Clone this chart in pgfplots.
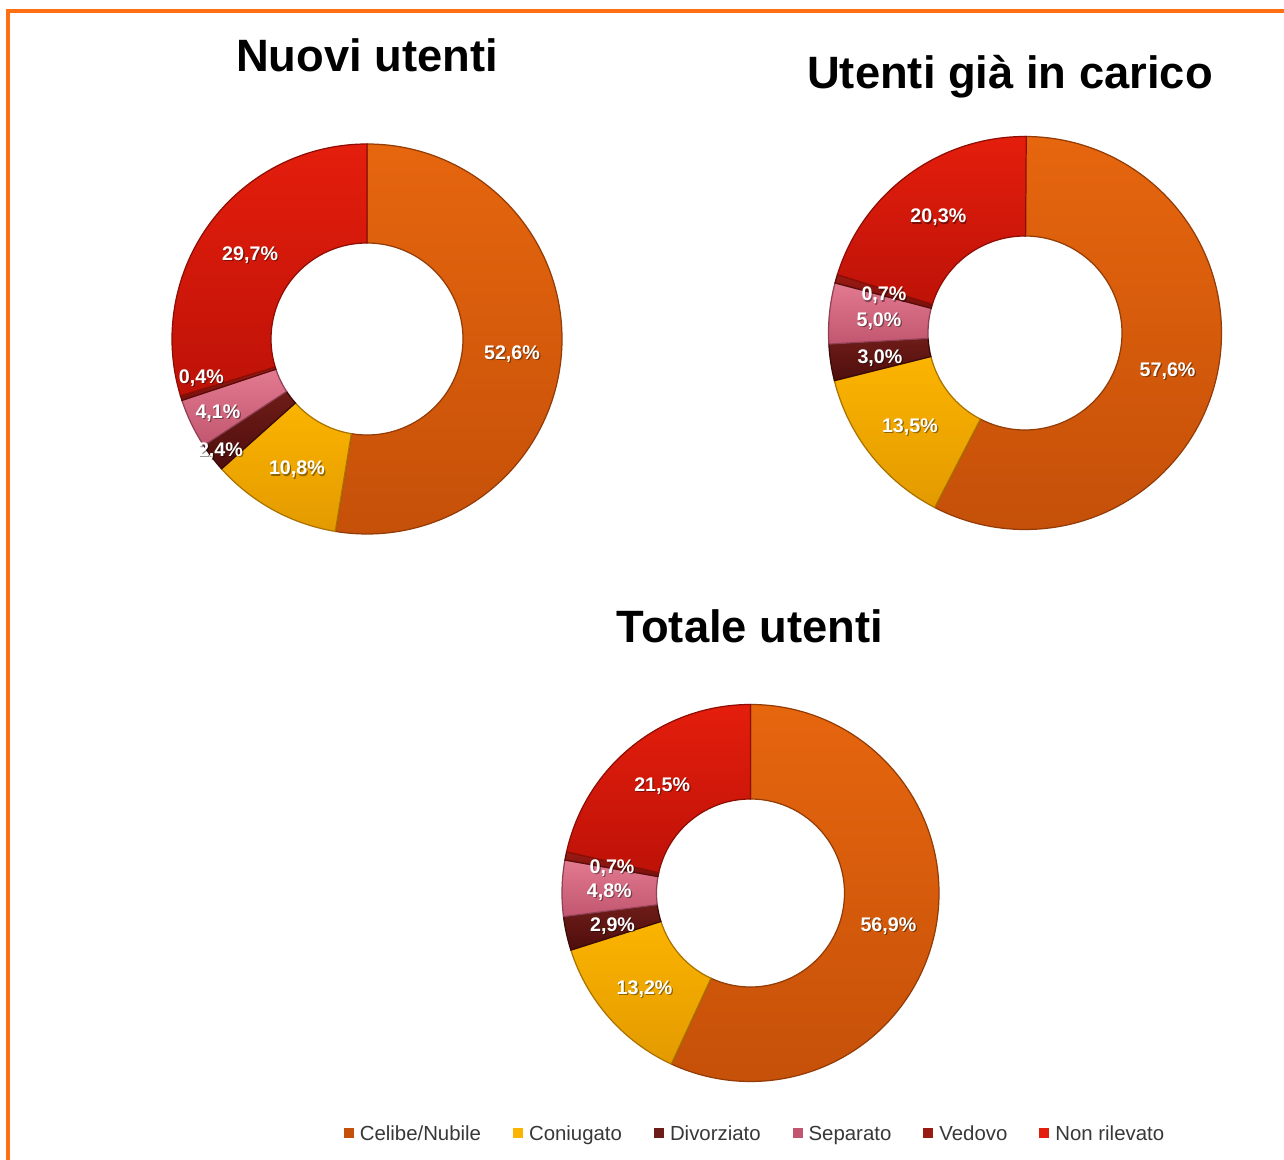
\documentclass[border=0pt]{standalone}
\usepackage{pgfplots}
\pgfplotsset{compat=1.18}
\usepackage{pgfplotstable}
\usepackage{fontspec}
\setmainfont{Liberation Sans}

\definecolor{celA}{HTML}{E6660E}\definecolor{celB}{HTML}{C55009}
\definecolor{conA}{HTML}{FBB400}\definecolor{conB}{HTML}{E39A00}
\definecolor{divA}{HTML}{6E1C18}\definecolor{divB}{HTML}{4E0E0C}
\definecolor{sepA}{HTML}{E27A90}\definecolor{sepB}{HTML}{C25670}
\definecolor{vedA}{HTML}{9A1A14}\definecolor{vedB}{HTML}{7A100C}
\definecolor{nonA}{HTML}{E41E0C}\definecolor{nonB}{HTML}{BE1208}
\definecolor{frameor}{HTML}{FF7014}

% Nuovi utenti
\pgfplotstableread{
v dx dy
52.6 0 0
10.8 0 0
2.4 -0.31 -0.21
4.1 -0.18 -0.08
0.4 -0.27 0.08
29.7 0 0
}\tabA
% Utenti gia in carico
\pgfplotstableread{
v dx dy
57.6 0 0
13.5 0 0
3.0 0 0
5.0 0 0
0.7 0 0
20.3 0 0
}\tabB
% Totale utenti
\pgfplotstableread{
v dx dy
56.9 0 0
13.2 0 0
2.9 0 0
4.8 0 0
0.7 0 0
21.5 0 0
}\tabC

\tikzset{lbl/.style={font=\fontsize{5.6}{6.5}\selectfont\bfseries, text=white, inner sep=0pt},
         lblsh/.style={font=\fontsize{5.6}{6.5}\selectfont\bfseries, text=black, text opacity=0.4, inner sep=0pt}}
\pgfkeys{/pgf/number format/.cd, fixed, fixed zerofill, precision=1, use comma, assume math mode=true}

% #1 table, #2 cx, #3 cy, #4 R, #5 r
\newcommand\donut[5]{%
  \xdef\cumul{0}%
  \foreach \i/\cA/\cB in {0/celA/celB,1/conA/conB,2/divA/divB,3/sepA/sepB,4/vedA/vedB,5/nonA/nonB}{%
    \pgfplotstablegetelem{\i}{v}\of#1\let\val\pgfplotsretval
    \pgfmathsetmacro\aA{90-3.6*\cumul}%
    \pgfmathsetmacro\aB{90-3.6*(\cumul+\val)}%
    \pgfmathsetmacro\xA{#2+#4*cos(\aA)}%
    \pgfmathsetmacro\yA{#3+#4*sin(\aA)}%
    \pgfmathsetmacro\xB{#2+#5*cos(\aB)}%
    \pgfmathsetmacro\yB{#3+#5*sin(\aB)}%
    \pgfmathsetmacro\newcum{\cumul+\val}%
    \xdef\cumul{\newcum}%
    \edef\temp{%
      \noexpand\shadedraw[top color=\cA, bottom color=\cB, draw=\cB!75!black, line width=0.35pt]
        (axis cs:\xA,\yA) arc[start angle=\aA, end angle=\aB, radius=#4cm]
        -- (axis cs:\xB,\yB) arc[start angle=\aB, end angle=\aA, radius=#5cm] -- cycle;
    }\temp
  }%
  \xdef\cumul{0}%
  \foreach \i in {0,...,5}{%
    \pgfplotstablegetelem{\i}{v}\of#1\let\val\pgfplotsretval
    \pgfplotstablegetelem{\i}{dx}\of#1\let\ldx\pgfplotsretval
    \pgfplotstablegetelem{\i}{dy}\of#1\let\ldy\pgfplotsretval
    \pgfmathsetmacro\aM{90-3.6*(\cumul+\val/2)}%
    \pgfmathsetmacro\xL{#2+(#4+#5)/2*cos(\aM)+\ldx}%
    \pgfmathsetmacro\yL{#3+(#4+#5)/2*sin(\aM)+\ldy-0.03}%
    \pgfmathsetmacro\xS{\xL+0.012}%
    \pgfmathsetmacro\yS{\yL-0.012}%
    \pgfmathsetmacro\newcum{\cumul+\val}%
    \xdef\cumul{\newcum}%
    \edef\temp{%
      \noexpand\node[lblsh] at (axis cs:\xS,\yS) {\noexpand\pgfmathprintnumber{\val}\noexpand\%};
      \noexpand\node[lbl] at (axis cs:\xL,\yL) {\noexpand\pgfmathprintnumber{\val}\noexpand\%};
    }\temp
  }%
}

\begin{document}
\begin{tikzpicture}
\useasboundingbox (0,0) rectangle (12.84,11.6);
\fill[white] (0,0) rectangle (12.84,11.6);
\begin{axis}[
  at={(0,0)}, anchor=origin,
  x=1cm, y=1cm, xmin=0, xmax=12.84, ymin=0, ymax=11.6,
  hide axis, clip=false,
  legend columns=6,
  legend style={at={(axis cs:7.54,0.30)}, anchor=center, draw=none, fill=none,
    font=\fontsize{5.8}{7}\selectfont, text=black!78,
    nodes={inner xsep=0pt, inner ysep=1pt, text height=1.5ex, text depth=0.4ex},
    /tikz/every even column/.append style={column sep=0.32cm},
    /tikz/every odd column/.append style={column sep=0.06cm}},
  legend image code/.code={\path[#1] (0cm,-0.085cm) rectangle (0.1cm,0.015cm);},
]
\addlegendimage{fill=celB, draw=none}\addlegendentry{Celibe/Nubile}
\addlegendimage{fill=conA, draw=none}\addlegendentry{Coniugato}
\addlegendimage{fill=divA, draw=none}\addlegendentry{Divorziato}
\addlegendimage{fill=sepB, draw=none}\addlegendentry{Separato}
\addlegendimage{fill=vedA, draw=none}\addlegendentry{Vedovo}
\addlegendimage{fill=nonA, draw=none}\addlegendentry{Non rilevato}

\donut{\tabA}{3.67}{8.21}{1.95}{0.96}
\donut{\tabB}{10.25}{8.27}{1.965}{0.97}
\donut{\tabC}{7.505}{2.67}{1.885}{0.94}

\node[font=\fontsize{12.9}{15}\selectfont\bfseries, anchor=base] at (axis cs:3.67,10.88) {Nuovi utenti};
\node[font=\fontsize{12.9}{15}\selectfont\bfseries, anchor=base] at (axis cs:10.10,10.71) {Utenti già in carico};
\node[font=\fontsize{12.9}{15}\selectfont\bfseries, anchor=base] at (axis cs:7.50,5.17) {Totale utenti};

\draw[frameor, line width=0.9pt] (axis cs:0.08,0) -- (axis cs:0.08,11.49) -- (axis cs:12.84,11.49);
\end{axis}
\end{tikzpicture}
\end{document}
